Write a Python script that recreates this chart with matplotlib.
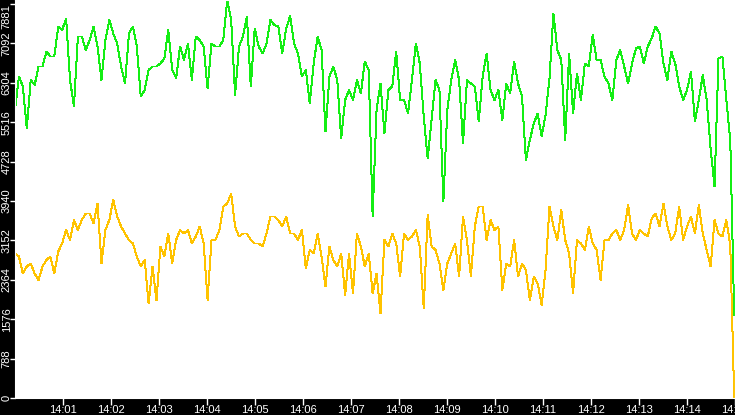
import matplotlib
matplotlib.use("Agg")
import matplotlib.pyplot as plt
import numpy as np

# two series, roughly one reading every 5 s from 14:00:00 to 14:15:00
green = [
    5760, 6430, 6230, 5390, 6360, 6260, 6630, 6630, 6930, 6830, 6830, 7430, 7360, 7590, 6360, 5830, 7230,
    7230, 6960, 7160, 7430, 7030, 6360, 7160, 7560, 7290, 7090, 6630, 6290, 7290, 7430, 7030, 6030,
    6160, 6560, 6630, 6630, 6690, 6790, 7360, 6560, 6400, 7030, 6760, 7090, 6360, 7230, 7160, 7030, 6190,
    7090, 7030, 7030, 7160, 7960, 7560, 6060, 7030, 7230, 7630, 6230, 7390, 7030, 6890, 7090, 7560,
    7460, 7430, 6890, 7390, 7640, 7090, 6890, 6430, 6560, 5890, 6690, 7230, 6960, 5330, 6430, 6630, 6360,
    5190, 5960, 6160, 5960, 6360, 6090, 6730, 6560, 3630, 5760, 6290, 5290, 6160, 6230, 6930, 5960,
    5960, 5690, 6360, 7090, 6690, 5630, 4790, 5560, 6360, 6160, 3930, 5760, 6360, 6760, 6360, 5090, 6360,
    6290, 6230, 5530, 6430, 6890, 6160, 5960, 6160, 5560, 6290, 6090, 6730, 6290, 6030, 4760, 5160,
    5490, 5690, 5230, 5660, 6390, 7690, 6960, 6760, 5160, 6890, 5690, 6490, 5960, 6690, 6630, 7260, 6760,
    6760, 6430, 6290, 5960, 6760, 6960, 6630, 6290, 6690, 6990, 7030,
    6690, 7030, 7190, 7430, 7290, 6690, 6360, 6930, 6690, 6230, 5960, 6160, 6530, 5530, 5960, 6460, 5960,
    4990, 4230, 6790, 6830, 5960, 5160, 1660,
]
yellow = [
    2890, 2830, 2490, 2630, 2690, 2490, 2360, 2630, 2760, 2830, 2490, 2930, 3090, 3360, 3160, 3560, 3360,
    3560, 3690, 3690, 3490, 3890, 2690, 3360, 3560, 3960, 3630, 3430, 3290, 3160, 3090, 2830, 2630,
    2760, 1890, 2630, 1950, 3030, 2830, 3290, 2690, 3160, 3360, 3290, 3360, 3090, 3230, 3430, 3090, 1960,
    3160, 3160, 3360, 3830, 3890, 4090, 3430, 3230, 3290, 3290, 3160, 3090, 3090, 3030, 3290, 3630,
    3630, 3560, 3430, 3630, 3290, 3290, 3160, 3360, 2590, 2960, 2890, 3290, 2830, 2230, 3030, 2760, 2630,
    2890, 2060, 2890, 2090, 3290, 3030, 2630, 2890, 2090, 2490, 1690, 3160, 3030, 3290, 3090, 2430,
    3290, 3160, 3230, 3360, 3030, 1790, 3660, 3030, 2960, 2690, 2160, 2690, 2890, 3090, 2430, 3630, 3160,
    2430, 3430, 3830, 3830, 3160, 3560, 3360, 3430, 2160, 2690, 2630, 3160, 2430, 2690, 2560, 1960,
    2430, 2290, 1860, 2560, 3830, 3430, 3160, 3760, 3160, 2890, 2090, 3160, 3090, 2960, 3430, 3090, 2960,
    2360, 3160, 3160, 3290, 3360, 3160, 3360, 3860, 3290, 3160, 3360,
    3290, 3230, 3590, 3690, 3430, 3890, 3430, 3160, 3290, 3830, 3160, 3430, 3630, 3290, 3860, 3290, 2960,
    2630, 3560, 3290, 3230, 3560, 3060, 0,
]
ytick_vals = [0, 788, 1576, 2364, 3152, 3940, 4728, 5516, 6304, 7092, 7881]
xtick_labels = ["14:%02d" % m for m in range(1, 16)]

t_green = np.linspace(0, 899, len(green))
t_yellow = np.linspace(0, 899, len(yellow))

fig = plt.figure(figsize=(7.35, 4.15), dpi=100, facecolor="black")
ax = fig.add_axes([15 / 735, 17 / 415, 720 / 735, 398 / 415])
ax.set_facecolor("white")

ax.plot(t_green, green, color="#14ee14", lw=0.72, antialiased=False)
ax.plot(t_yellow, yellow, color="#ffc300", lw=0.72, antialiased=False)

ax.set_xlim(0, 900)
ax.set_ylim(0, 7960)

ax.set_xticks(np.arange(60, 901, 60))
ax.set_xticklabels(xtick_labels)
ax.set_yticks(np.arange(11) * 788.1)
ax.set_yticklabels([str(v) for v in ytick_vals], rotation=90, va="center", ha="center")
ax.get_yticklabels()[-1].set_va("top")

ax.tick_params(colors="white", labelcolor="white", width=1)
ax.tick_params(axis="x", length=5, pad=0, labelsize=8)
ax.tick_params(axis="y", length=3.5, pad=2.5, labelsize=8)
for lbl in ax.get_xticklabels() + ax.get_yticklabels():
    lbl.set_family("Liberation Sans")
for s in ax.spines.values():
    s.set_color("white")

fig.savefig("out.png", dpi=100, facecolor="black")
